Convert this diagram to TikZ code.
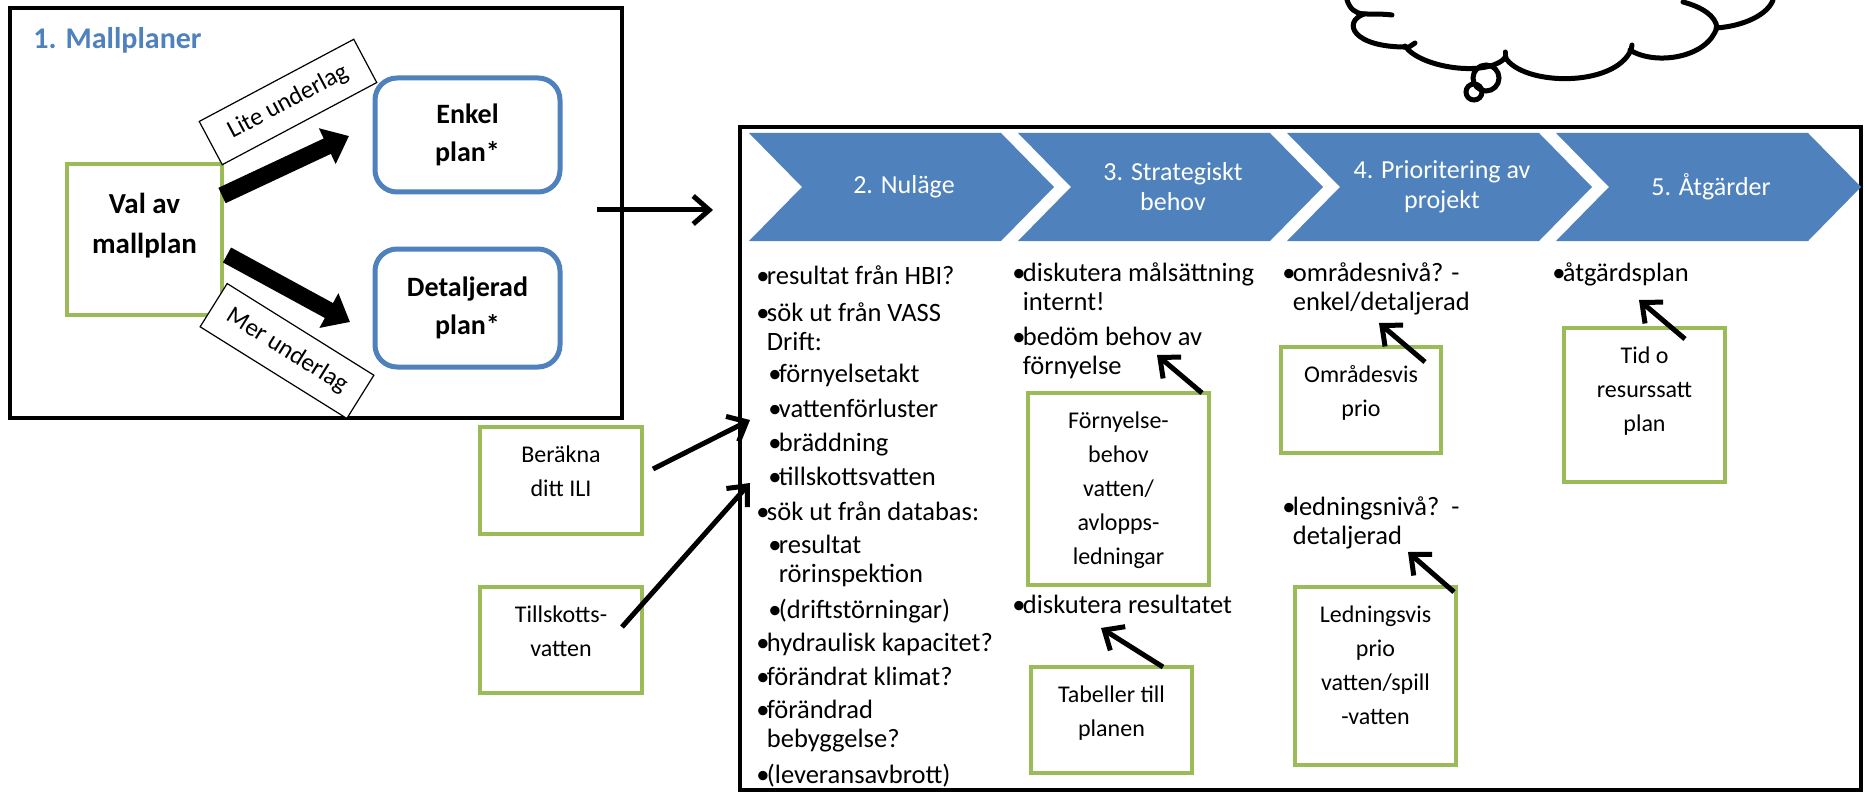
\documentclass[tikz,border=0pt]{standalone}
\usepackage{fontspec}
\setmainfont{Carlito}
\usepackage{tikz}
\usetikzlibrary{arrows.meta,calc}
\definecolor{ppblue}{HTML}{4F81BD}
\definecolor{ppgreen}{HTML}{9BBB59}
\newcommand{\pkt}{\makebox[5.25pt][l]{\textbullet}}
\newcommand{\indrag}{\hspace*{5.25pt}}
\tikzset{
  ram/.style={draw=black, line width=2pt, inner sep=0pt, outer sep=0pt},
  gronbox/.style={draw=ppgreen, line width=2.25pt, fill=white, inner sep=0pt, outer sep=0pt},
  blabox/.style={draw=ppblue, line width=2.5pt, rounded corners=11pt, inner sep=0pt, outer sep=0pt,
    minimum width=92.5pt, align=center, font=\fontsize{14}{19}\selectfont\bfseries},
  boxtext/.style={anchor=base, align=center, inner sep=0pt, font=\fontsize{12}{17}\selectfont},
  punkt/.style={anchor=base west, align=left, inner sep=0pt, font=\fontsize{13.25}{14.75}\selectfont},
  stegtext/.style={text=white, align=center, inner sep=0pt, font=\fontsize{13}{15}\selectfont},
  etikett/.style={draw, line width=0.6pt, fill=white, inner sep=0pt, font=\fontsize{12.5}{15}\selectfont},
  block/.style={line width=8.5pt, -{Triangle[length=12pt,width=19pt]}},
  pil/.style={line width=2.5pt, -{Straight Barb[length=8pt,width=14pt]}},
  moln/.style={line width=2.5pt, line cap=round}
}
\begin{document}
\begin{tikzpicture}[x=0.5pt,y=-0.5pt]
\useasboundingbox (0,0) rectangle (1865,792);
\fill[white] (0,0) rectangle (1865,792);

% 1. Mallplaner
\node[ram, minimum width=306pt, minimum height=205pt] (mall) at (316,213) {};
\node[anchor=base west, inner sep=0pt, text=ppblue, font=\fontsize{15}{18}\selectfont\bfseries] (titel) at (33,49) {1. Mallplaner};

\node[gronbox, minimum width=77.5pt, minimum height=75.5pt] (val) at (144.5,239.5) {};
\node[anchor=base, align=center, inner sep=0pt, font=\fontsize{14.5}{20}\selectfont\bfseries] (valtext) at (144.5,253) {Val av\\mallplan};

\node[blabox, minimum height=57pt] (enkel) at (467.5,135) {Enkel\\plan*};
\node[blabox, minimum height=59pt] (detalj) at (467.5,308) {Detaljerad\\plan*};

\draw[block] ($(val.east)+(0,-44)$) -- ($(enkel.west)+(-26,1)$);
\draw[block] ($(val.east)+(5,15.5)$) -- ($(detalj.west)+(-25,14)$);

\node[etikett, minimum width=87.5pt, minimum height=24.5pt, rotate=28] (lite) at (288,102) {Lite underlag};
\node[etikett, minimum width=86.5pt, minimum height=25.5pt, rotate=-32] (mer) at (287,351) {Mer underlag};

% processen
\node[ram, minimum width=560.5pt, minimum height=331.5pt] (process) at (1300.5,458.5) {};
\draw[pil] ($(mall.east)+(-25,-3)$) -- ($(process.north west)+(-27,83)$);

\foreach \i/\txt in {0/{2. Nuläge},1/{3. Strategiskt\\behov},2/{4. Prioritering av\\projekt},3/{5. Åtgärder}}
{
  \fill[ppblue] ({749+269*\i},133) -- ++(252,0) -- ++(53,54) -- ++(-53,54) -- ++(-252,0) -- ++(53,-54) -- cycle;
  \node[stegtext] (steg\i) at ({904+269*\i},187) {\txt};
}

\node[punkt] (hbi) at (756,285) {\pkt resultat från HBI?};
\node[punkt] (vass) at (756,350.5) {\pkt sök ut från VASS\\\indrag Drift:};
\node[punkt] (takt) at (768,382) {\pkt förnyelsetakt};
\node[punkt] (forlust) at (768,417) {\pkt vattenförluster};
\node[punkt] (bradd) at (768,451) {\pkt bräddning};
\node[punkt] (tillsk) at (768,485) {\pkt tillskottsvatten};
\node[punkt] (databas) at (756,520) {\pkt sök ut från databas:};
\node[punkt] (rorinsp) at (768,582.5) {\pkt resultat\\\indrag rörinspektion};
\node[punkt] (stor) at (768,618) {\pkt (driftstörningar)};
\node[punkt] (hydr) at (756,651) {\pkt hydraulisk kapacitet?};
\node[punkt] (klimat) at (756,685) {\pkt förändrat klimat?};
\node[punkt] (bebygg) at (756,747.5) {\pkt förändrad\\\indrag bebyggelse?};
\node[punkt] (leverans) at (756,783) {\pkt (leveransavbrott)};

\node[punkt] (malsatt) at (1012,310.5) {\pkt diskutera målsättning\\\indrag internt!};
\node[punkt] (bedom) at (1012,374.5) {\pkt bedöm behov av\\\indrag förnyelse};
\node[punkt] (diskres) at (1012,613) {\pkt diskutera resultatet};

\node[punkt] (omrniva) at (1282,310.5) {\pkt områdesnivå? -\\\indrag enkel/detaljerad};
\node[punkt] (ledniva) at (1282,544.5) {\pkt ledningsnivå?~~-\\\indrag detaljerad};

\node[punkt] (atgard) at (1552,281) {\pkt åtgärdsplan};

% gröna rutor
\node[gronbox, minimum width=81pt, minimum height=53.5pt] (ili) at (561,480.5) {};
\node[boxtext] (ilitext) at ($(ili.north)+(0,69)$) {Beräkna\\ditt ILI};
\node[gronbox, minimum width=81pt, minimum height=53pt] (tillskott) at (561,640) {};
\node[boxtext] (tillskotttext) at ($(tillskott.north)+(0,69)$) {Tillskotts-\\vatten};
\node[gronbox, minimum width=90.5pt, minimum height=96pt] (forny) at (1118.5,489) {};
\node[boxtext] (fornytext) at ($(forny.north)+(0,171)$) {Förnyelse-\\behov\\vatten/\\avlopps-\\ledningar};
\node[gronbox, minimum width=80.5pt, minimum height=53pt] (tabeller) at (1111.5,720) {};
\node[boxtext] (tabellertext) at ($(tabeller.north)+(0,69)$) {Tabeller till\\planen};
\node[gronbox, minimum width=80pt, minimum height=53pt] (omrade) at (1361,400) {};
\node[boxtext] (omradetext) at ($(omrade.north)+(0,69)$) {Områdesvis\\prio};
\node[gronbox, minimum width=80.5pt, minimum height=89pt] (ledning) at (1375.5,676) {};
\node[boxtext] (ledningtext) at ($(ledning.north)+(0,137)$) {Ledningsvis\\prio\\vatten/spill\\-vatten};
\node[gronbox, minimum width=80.5pt, minimum height=77pt] (tid) at (1644.5,405) {};
\node[boxtext] (tidtext) at ($(tid.north)+(0,103)$) {Tid o\\resurssatt\\plan};

\draw[pil] ($(ili.east)+(11,-11.5)$) -- ($(forlust.base west)+(-18,3)$);
\draw[pil] ($(tillskott.east)+(-20,-13)$) -- ($(tillsk.base west)+(-18,-2)$);
\draw[pil] ($(forny.north east)+(-7,0)$) -- ($(bedom.base west)+(145,-19.5)$);
\draw[pil] ($(tabeller.north east)+(-29,0)$) -- ($(diskres.base west)+(89,15)$);
\draw[pil] ($(omrade.north east)+(-16,15)$) -- ($(omrniva.base west)+(97,12.5)$);
\draw[pil] ($(ledning.north east)+(-2,5)$) -- ($(ledniva.base west)+(126,7.5)$);
\draw[pil] ($(tid.north east)+(-40,11)$) -- ($(atgard.base west)+(87,19)$);

% molnet
\draw[moln] (1347,0) .. controls (1350,9) and (1355,13) .. (1363,14);
\draw[moln] (1363,14) .. controls (1375,14) and (1385,14) .. (1392,15);
\draw[moln] (1364,14) .. controls (1342,22) and (1352,48) .. (1409,47) -- (1415,43);
\draw[moln] (1405,46) .. controls (1420,68) and (1488,78) .. (1506,57);
\draw[moln] (1505,59) -- (1505,52);
\draw[moln] (1505,57) .. controls (1522,86) and (1614,88) .. (1631,50) -- (1632,45);
\draw[moln] (1630,50) .. controls (1655,66) and (1708,58) .. (1717,27);
\draw[moln] (1683,2) .. controls (1702,7) and (1716,16) .. (1717,28);
\draw[moln] (1716,28) .. controls (1745,26) and (1768,14) .. (1773,0);
\draw[moln] (1486,78) circle (13);
\draw[moln] (1474,92) circle (8);

\end{tikzpicture}
\end{document}
